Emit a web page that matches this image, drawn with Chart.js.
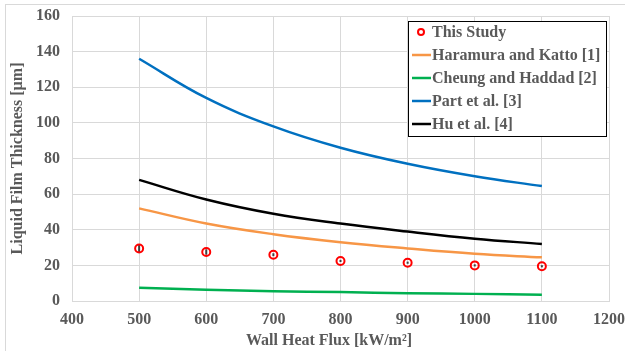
<!DOCTYPE html>
<html>
<head>
<meta charset="utf-8">
<script src="https://cdn.jsdelivr.net/npm/chart.js@4"></script>
<style>
  html, body { margin: 0; padding: 0; background: #fff; }
  #wrap { position: relative; width: 625px; height: 351px; }
</style>
</head>
<body>
<div id="wrap"><canvas id="chart" width="625" height="351"></canvas></div>
<script>
// Wall heat flux [kW/m2]
const heatFlux = [500, 600, 700, 800, 900, 1000, 1100];

// Liquid film thickness [um]
const thisStudy = [29.5, 27.5, 26, 22.5, 21.5, 20, 19.5];
const thisStudyErr = [2, 1.5, 0.8, 0.6, 0.6, 0.6, 0.6];
const haramuraKatto = [52, 43.5, 37.5, 33, 29.5, 26.5, 24.5];
const cheungHaddad = [7.5, 6.3, 5.5, 5, 4.4, 4, 3.5];
const partEtAl = [136, 114, 98, 86, 77, 70, 64.5];
const huEtAl = [68, 57, 49, 43.5, 39, 35, 32];

const FONT = "'Liberation Serif', 'Times New Roman', serif";
const TEXT = '#595959';

function toPoints(ys) {
    return heatFlux.map((x, i) => ({ x: x, y: ys[i] }));
}

function lineSet(label, ys, color) {
    return {
        label: label,
        data: toPoints(ys),
        borderColor: color,
        backgroundColor: color,
        borderWidth: 2.5,
        pointRadius: 0,
        showLine: true,
        tension: 0.4
    };
}

// small vertical error bars behind the measured points
const errorBars = {
    id: 'errorBars',
    beforeDatasetsDraw(chart) {
        const ctx = chart.ctx;
        const xs = chart.scales.x, ys = chart.scales.y;
        ctx.save();
        ctx.strokeStyle = '#404040';
        ctx.lineWidth = 2;
        thisStudy.forEach((v, i) => {
            const px = xs.getPixelForValue(heatFlux[i]);
            ctx.beginPath();
            ctx.moveTo(px, ys.getPixelForValue(v - thisStudyErr[i]));
            ctx.lineTo(px, ys.getPixelForValue(v + thisStudyErr[i]));
            ctx.stroke();
        });
        ctx.restore();
    }
};

// boxed legend inside the plot, top right
const boxLegend = {
    id: 'boxLegend',
    afterDraw(chart) {
        const ctx = chart.ctx;
        const left = 408, top = 21, w = 198, h = 115, step = 23;
        ctx.save();
        ctx.fillStyle = '#fff';
        ctx.fillRect(left, top, w, h);
        ctx.strokeStyle = '#000';
        ctx.lineWidth = 1;
        ctx.strokeRect(left + 0.5, top + 0.5, w, h);
        ctx.font = 'bold 16px ' + FONT;
        ctx.textBaseline = 'middle';
        chart.data.datasets.forEach((ds, i) => {
            const y = top + 11 + i * step;
            if (ds.showLine) {
                ctx.strokeStyle = ds.borderColor;
                ctx.lineWidth = 2.5;
                ctx.beginPath();
                ctx.moveTo(412, y);
                ctx.lineTo(431, y);
                ctx.stroke();
            } else {
                ctx.strokeStyle = ds.borderColor;
                ctx.lineWidth = 2;
                ctx.beginPath();
                ctx.arc(421, y, 3, 0, Math.PI * 2);
                ctx.stroke();
            }
            ctx.fillStyle = TEXT;
            ctx.fillText(ds.label, 432, y + 1);
        });
        ctx.restore();
    }
};

// frame round the figure + x axis title (sits left of the plot centre in the original)
const frame = {
    id: 'frame',
    beforeDraw(chart) {
        const ctx = chart.ctx;
        ctx.save();
        ctx.strokeStyle = '#d9d9d9';
        ctx.lineWidth = 1;
        ctx.strokeRect(5.5, 4.5, 640, 360);
        ctx.restore();
    },
    afterDraw(chart) {
        const ctx = chart.ctx;
        ctx.save();
        ctx.font = 'bold 16px ' + FONT;
        ctx.fillStyle = TEXT;
        ctx.textAlign = 'center';
        ctx.textBaseline = 'middle';
        ctx.fillText('Wall Heat Flux [kW/m²]', 329, 341);
        ctx.restore();
    }
};

new Chart(document.getElementById('chart'), {
    type: 'scatter',
    data: {
        datasets: [
            {
                label: 'This Study',
                data: toPoints(thisStudy),
                borderColor: '#ff0000',
                backgroundColor: 'rgba(0,0,0,0)',
                borderWidth: 2,
                pointRadius: 4,
                showLine: false
            },
            lineSet('Haramura and Katto [1]', haramuraKatto, '#f79646'),
            lineSet('Cheung and Haddad [2]', cheungHaddad, '#00b050'),
            lineSet('Part et al. [3]', partEtAl, '#0070c0'),
            lineSet('Hu et al. [4]', huEtAl, '#000000')
        ]
    },
    options: {
        responsive: false,
        animation: false,
        layout: { autoPadding: false, padding: { top: 16, right: 16, left: 0, bottom: 0 } },
        plugins: {
            legend: { display: false },
            tooltip: { enabled: false }
        },
        scales: {
            x: {
                type: 'linear',
                min: 400,
                max: 1200,
                ticks: {
                    stepSize: 100,
                    color: TEXT,
                    padding: 9,
                    font: { family: FONT, size: 16, weight: 'bold' },
                    callback: v => String(v)
                },
                grid: { color: '#d9d9d9', lineWidth: 1, drawTicks: false },
                border: { color: '#d9d9d9' },
                afterFit: s => { s.height = 50; s.paddingLeft = 0; s.paddingRight = 0; }
            },
            y: {
                min: 0,
                max: 160,
                ticks: { stepSize: 20, color: TEXT, padding: 12, font: { family: FONT, size: 16, weight: 'bold' } },
                grid: { color: '#d9d9d9', lineWidth: 1, drawTicks: false },
                border: { color: '#d9d9d9' },
                title: {
                    display: true,
                    text: 'Liquid Film Thickness [µm]',
                    color: TEXT,
                    padding: { top: 8, bottom: 4 },
                    font: { family: FONT, size: 16, weight: 'bold' }
                },
                afterFit: s => { s.width = 72; s.paddingTop = 0; s.paddingBottom = 0; }
            }
        }
    },
    plugins: [frame, errorBars, boxLegend]
});
</script>
</body>
</html>
